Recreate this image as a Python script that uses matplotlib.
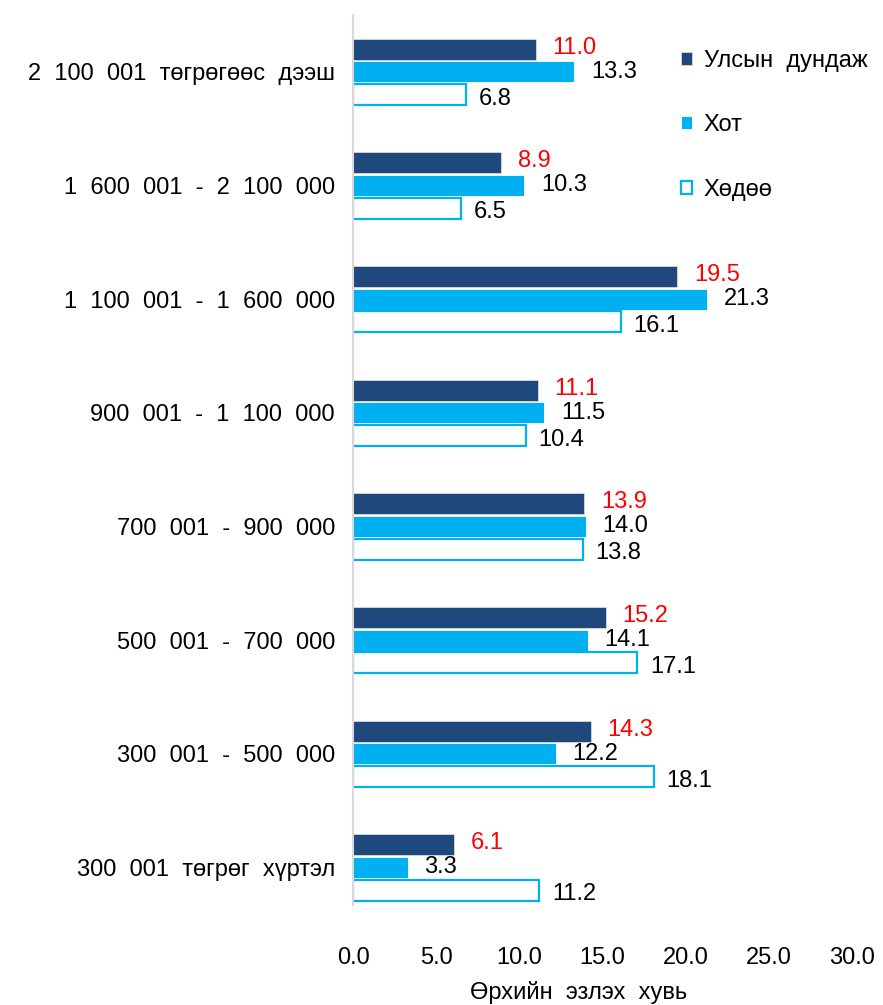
import numpy as np
import matplotlib.pyplot as plt

plt.rcParams['font.family'] = ['Liberation Sans', 'DejaVu Sans']

# Data (top to bottom as shown in the chart)
categories = ['2 100 001 төгрөгөөс дээш', '1 600 001 - 2 100 000', '1 100 001 - 1 600 000',
              '900 001 - 1 100 000', '700 001 - 900 000', '500 001 - 700 000',
              '300 001 - 500 000', '300 001 төгрөг хүртэл']
national = [11.0, 8.9, 19.5, 11.1, 13.9, 15.2, 14.3, 6.1]
urban = [13.3, 10.3, 21.3, 11.5, 14.0, 14.1, 12.2, 3.3]
rural = [6.8, 6.5, 16.1, 10.4, 13.8, 17.1, 18.1, 11.2]
series_names = ['Улсын дундаж', 'Хот', 'Хөдөө']
xlabel = 'Өрхийн эзлэх хувь'

navy = '#1F497D'
blue = '#00B0F0'


def wide(s):
    # the reference uses wide word spacing
    return s.replace(' ', '  ')


fig = plt.figure(figsize=(8.83, 10.05), dpi=100)
ax = fig.add_axes([353 / 883, 1 - 905 / 1005, (852 - 353) / 883, (905 - 15) / 1005])

n = len(categories)
y = np.arange(n)[::-1]
h = 0.185
off = 0.2

b1 = ax.barh(y + off, national, height=h, color=navy, edgecolor='#D9D9D9', linewidth=0.6,
             label=wide(series_names[0]))
b2 = ax.barh(y, urban, height=h, color=blue, edgecolor='white', linewidth=0.6,
             label=wide(series_names[1]))
b3 = ax.barh(y - off, rural, height=h, color='white', edgecolor=blue, linewidth=1.6,
             label=wide(series_names[2]))

fs = 17
for i in range(n):
    ax.annotate(f'{national[i]:.1f}', (national[i], y[i] + off), xytext=(12, 1),
                textcoords='offset points', va='center', ha='left', fontsize=fs, color='red')
    ax.annotate(f'{urban[i]:.1f}', (urban[i], y[i]), xytext=(12, 0),
                textcoords='offset points', va='center', ha='left', fontsize=fs, color='black')
    ax.annotate(f'{rural[i]:.1f}', (rural[i], y[i] - off), xytext=(9, -3),
                textcoords='offset points', va='center', ha='left', fontsize=fs, color='black')

ax.set_xlim(0, 30)
ax.set_ylim(-0.33, 7.5)
ax.set_xticks(np.arange(0, 31, 5))
ax.set_xticklabels([f'{v:.1f}' for v in np.arange(0, 31, 5)], fontsize=fs)
ax.set_yticks(y)
ax.set_yticklabels([wide(c) for c in categories], fontsize=fs)
ax.tick_params(axis='both', length=0)
ax.tick_params(axis='y', pad=13)
ax.tick_params(axis='x', pad=30)
for s in ['top', 'right', 'bottom']:
    ax.spines[s].set_visible(False)
ax.spines['left'].set_color('#D9D9D9')
ax.spines['left'].set_linewidth(1.5)

ax.set_xlabel(wide(xlabel), fontsize=fs, labelpad=9, x=0.453)

leg = ax.legend(handles=[b1, b2, b3], loc='upper left', bbox_to_anchor=(0.615, 0.985),
                frameon=False, fontsize=fs, handlelength=0.45, handleheight=0.45,
                handletextpad=0.5, labelspacing=1.8)

fig.savefig('out.png', dpi=100)
